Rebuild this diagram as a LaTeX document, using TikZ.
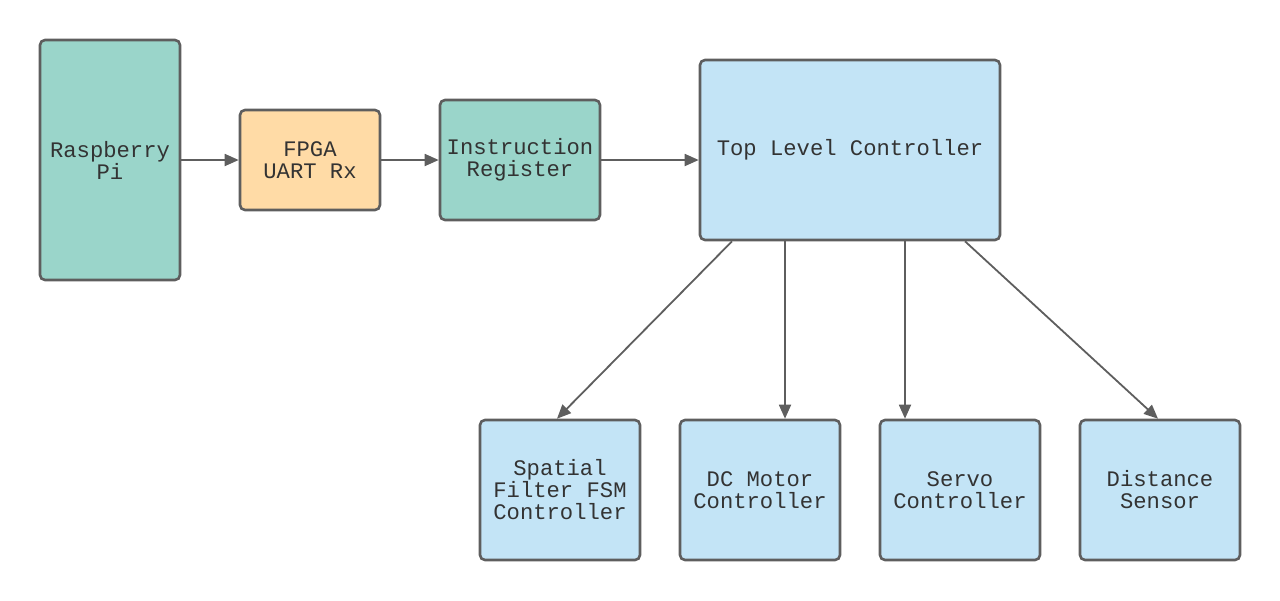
\documentclass[tikz,border=0pt]{standalone}
\usepackage{fontspec}
\newfontfamily\diagfont{Liberation Mono}
\usetikzlibrary{arrows.meta}
\definecolor{teal}{HTML}{9AD5CA}
\definecolor{orng}{HTML}{FFDBA6}
\definecolor{lblue}{HTML}{C3E4F6}
\definecolor{edge}{HTML}{5E5E5E}
\definecolor{txt}{HTML}{333333}
\begin{document}
\begin{tikzpicture}[x=1pt,y=-1pt,
  blk/.style={draw=edge,line width=2.6pt,rounded corners=5pt,inner sep=0pt,
    font=\diagfont\fontsize{22.2}{22}\selectfont,text=txt,align=center},
  conn/.style={draw=edge,line width=1.8pt,-{Triangle[length=14pt,width=12pt]}}]
\useasboundingbox (0,0) rectangle (1280,600);
\node[blk,fill=teal,minimum width=140pt,minimum height=240pt] (rpi) at (110,160) {Raspberry\\Pi};
\node[blk,fill=orng,minimum width=140pt,minimum height=100pt] (fpga) at (310,160) {FPGA\\UART Rx};
\node[blk,fill=teal,minimum width=160pt,minimum height=120pt] (ir) at (520,160) {Instruction\\Register};
\node[blk,fill=lblue,minimum width=300pt,minimum height=180pt] (top) at (850,150) {Top Level Controller};
\node[blk,fill=lblue,minimum width=160pt,minimum height=140pt] (sf) at (560,490) {Spatial\\Filter FSM\\Controller};
\node[blk,fill=lblue,minimum width=160pt,minimum height=140pt] (dc) at (760,490) {DC Motor\\Controller};
\node[blk,fill=lblue,minimum width=160pt,minimum height=140pt] (sv) at (960,490) {Servo\\Controller};
\node[blk,fill=lblue,minimum width=160pt,minimum height=140pt] (ds) at (1160,490) {Distance\\Sensor};
\draw[conn] (rpi.east |- 0,160) -- (fpga.west |- 0,160);
\draw[conn] (fpga.east |- 0,160) -- (ir.west |- 0,160);
\draw[conn] (ir.east |- 0,160) -- (top.west |- 0,160);
\draw[conn] (top.south -| 732,0) -- (sf.north -| 557,0);
\draw[conn] (top.south -| 785,0) -- (dc.north -| 785,0);
\draw[conn] (top.south -| 905,0) -- (sv.north -| 905,0);
\draw[conn] (top.south -| 965,0) -- (ds.north -| 1158,0);
\end{tikzpicture}
\end{document}
